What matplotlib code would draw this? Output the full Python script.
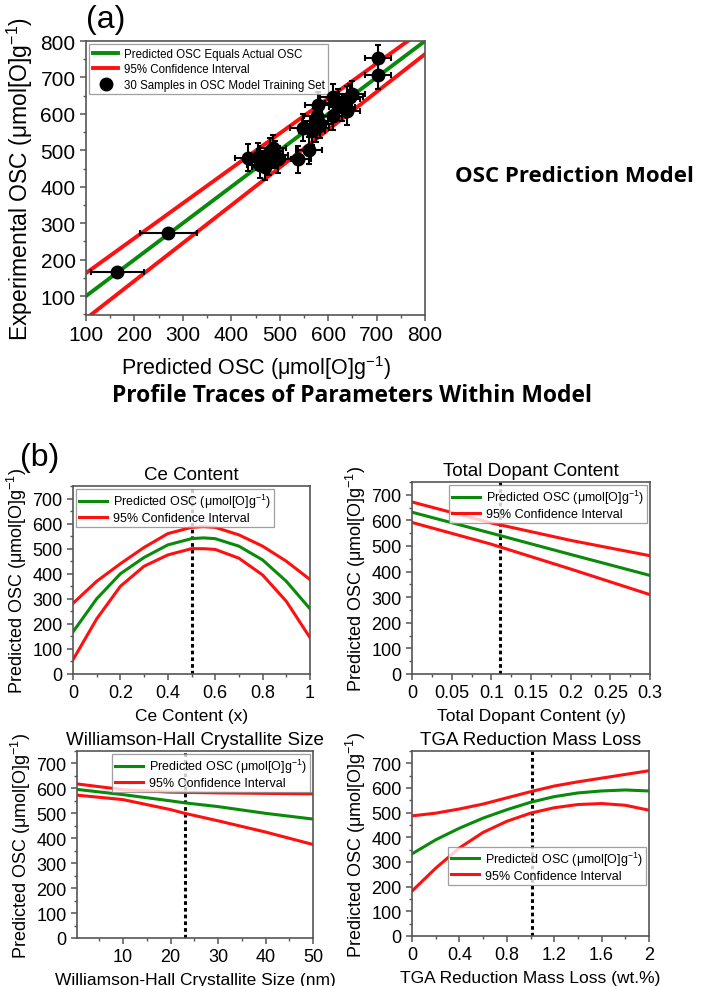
import numpy as np
import matplotlib
matplotlib.use('Agg')
import matplotlib.pyplot as plt
from matplotlib.lines import Line2D
from matplotlib.ticker import MultipleLocator

plt.rcParams['font.family'] = ['Liberation Sans', 'DejaVu Sans']
plt.rcParams['mathtext.fontset'] = 'custom'
plt.rcParams['mathtext.rm'] = 'Liberation Sans'

# ---- panel (a) data: predicted vs experimental OSC ----
pred = [165, 270, 434, 455, 460, 470, 478, 486, 490, 496, 538, 561, 548, 567, 573,
        583, 577, 579, 610, 611, 629, 639, 639, 650, 703, 703, 480, 575, 620, 645]
expt = [165, 272, 479, 483, 461, 455, 470, 505, 488, 475, 475, 500, 562, 552, 580,
        571, 593, 623, 593, 645, 618, 607, 640, 654, 753, 706, 498, 560, 630, 645]
pred_err = [55, 59] + [27] * 28
expt_err = [0, 0] + [37] * 28
ci_x = [100, 800]
ci_upper = [163, 834]
ci_lower = [38, 764]

# ---- panel (b) profile traces ----
ce_x = [0, 0.1, 0.2, 0.3, 0.4, 0.5, 0.55, 0.6, 0.7, 0.8, 0.9, 1.0]
ce_pred = [168, 300, 400, 465, 515, 540, 543, 540, 510, 455, 370, 260]
ce_hi = [282, 370, 440, 505, 560, 585, 588, 585, 555, 510, 450, 377]
ce_lo = [57, 220, 350, 430, 475, 500, 500, 497, 462, 395, 290, 145]

dop_x = [0, 0.1, 0.2, 0.3]
dop_pred = [632, 550, 467, 385]
dop_hi = [672, 590, 522, 462]
dop_lo = [592, 507, 410, 310]

wh_x = [0.3, 10, 20, 23, 30, 40, 50]
wh_pred = [596, 575, 550, 542, 527, 500, 477]
wh_hi = [618, 595, 585, 584, 582, 580, 578]
wh_lo = [573, 555, 515, 500, 470, 425, 375]

tga_x = [0, 0.2, 0.4, 0.6, 0.8, 1.0, 1.2, 1.4, 1.6, 1.8, 2.0]
tga_pred = [333, 390, 437, 478, 512, 542, 565, 580, 588, 592, 588]
tga_hi = [487, 498, 515, 535, 560, 585, 608, 625, 640, 655, 670]
tga_lo = [182, 275, 357, 420, 465, 498, 520, 533, 537, 530, 510]

GREEN = '#0a8a0a'
RED = '#ff1010'
SPINE = '#555555'
unit = r'($\mathregular{\mu mol[O]g^{-1}}$)'

fig = plt.figure(figsize=(7.05, 9.87), dpi=100)


def style(ax, fs):
    for s in ax.spines.values():
        s.set_color(SPINE)
        s.set_linewidth(1.2)
    ax.tick_params(which='both', direction='out', top=False, right=False,
                   color=SPINE, labelsize=fs)
    ax.tick_params(which='major', length=4, width=1.1)
    ax.tick_params(which='minor', length=2.5, width=1.0)


# ---------------- (a) ----------------
ax = fig.add_axes([86 / 705, 1 - 316 / 987, 339 / 705, 274 / 987])
g, = ax.plot([100, 800], [100, 800], color=GREEN, lw=2.8)
r, = ax.plot(ci_x, ci_upper, color=RED, lw=2.8)
ax.plot(ci_x, ci_lower, color=RED, lw=2.8)
ax.errorbar(pred, expt, xerr=pred_err, yerr=expt_err, fmt='o', color='black',
            ms=9, elinewidth=1.5, capsize=2.5, capthick=1.5, zorder=5)
dot = Line2D([], [], ls='none', marker='o', ms=9, color='black')
ax.set_xlim(100, 800)
ax.set_ylim(48, 800)
ax.xaxis.set_major_locator(MultipleLocator(100))
ax.xaxis.set_minor_locator(MultipleLocator(50))
ax.yaxis.set_major_locator(MultipleLocator(100))
ax.yaxis.set_minor_locator(MultipleLocator(50))
style(ax, 15)
ax.set_xlabel('Predicted OSC ' + unit, fontsize=15.5, labelpad=6)
ax.set_ylabel('Experimental OSC ' + unit, fontsize=16.5, labelpad=4)
leg = ax.legend([g, r, dot],
                ['Predicted OSC Equals Actual OSC', '95% Confidence Interval',
                 '30 Samples in OSC Model Training Set'],
                loc='upper left', fontsize=8.3, frameon=True, fancybox=False,
                borderpad=0.3, handlelength=2.2, labelspacing=0.3,
                handletextpad=0.5, borderaxespad=0.3)
leg.get_frame().set_edgecolor('#888888')
leg.get_frame().set_linewidth(0.9)

fig.text(86 / 705, 1 - 20 / 987, '(a)', fontsize=23, va='center', ha='left')
fig.text(574 / 705, 1 - 176 / 987, 'OSC Prediction Model', fontsize=16,
         fontweight='bold', family='Open Sans', ha='center', va='center')
fig.text(352 / 705, 1 - 396 / 987, 'Profile Traces of Parameters Within Model',
         fontsize=16.5, fontweight='bold', family='Open Sans',
         ha='center', va='center')
fig.text(20 / 705, 1 - 458 / 987, '(b)', fontsize=23, va='center', ha='left')

# ---------------- (b) ----------------
panels = [
    (ce_x, ce_pred, ce_hi, ce_lo, 0.5, (0, 1), 0.2, 0.1, 'Ce Content',
     'Ce Content (x)', [73, 487, 310, 675], 'upper left', None),
    (dop_x, dop_pred, dop_hi, dop_lo, 0.111, (0, 0.3), 0.05, 0.025,
     'Total Dopant Content', 'Total Dopant Content (y)', [412, 483, 650, 675],
     'upper right', None),
    (wh_x, wh_pred, wh_hi, wh_lo, 23, (0.3, 50), 10, 5,
     'Williamson-Hall Crystallite Size', 'Williamson-Hall Crystallite Size (nm)',
     [77, 752, 313, 939], 'upper right', None),
    (tga_x, tga_pred, tga_hi, tga_lo, 1.01, (0, 2), 0.4, 0.2,
     'TGA Reduction Mass Loss', 'TGA Reduction Mass Loss (wt.%)',
     [412, 752, 649, 937], 'center right', (1.0, 0.38)),
]

for xs, yp, yh, yl, vx, xlim, maj, mnr, title, xlabel, box, loc, anchor in panels:
    l, t, rr, b = box
    bx = fig.add_axes([l / 705, 1 - b / 987, (rr - l) / 705, (b - t) / 987])
    bx.plot(xs, yp, color=GREEN, lw=2.2, label='Predicted OSC ' + unit)
    bx.plot(xs, yh, color=RED, lw=2.2, label='95% Confidence Interval')
    bx.plot(xs, yl, color=RED, lw=2.2)
    bx.axvline(vx, color='black', ls=(0, (1.2, 1.0)), lw=2.2, zorder=1)
    bx.set_xlim(*xlim)
    bx.set_ylim(0, 750)
    bx.xaxis.set_major_locator(MultipleLocator(maj))
    bx.xaxis.set_minor_locator(MultipleLocator(mnr))
    bx.yaxis.set_major_locator(MultipleLocator(100))
    bx.yaxis.set_minor_locator(MultipleLocator(50))
    bx.xaxis.set_major_formatter(plt.FuncFormatter(lambda v, p: f'{v:g}'))
    style(bx, 13)
    bx.set_title(title, fontsize=13.5, pad=5)
    bx.set_xlabel(xlabel, fontsize=12.5, labelpad=5)
    bx.set_ylabel('Predicted OSC ' + unit, fontsize=13, labelpad=2)
    kw = dict(loc=loc, fontsize=9, frameon=True, fancybox=False, borderpad=0.25,
              handlelength=2.2, labelspacing=0.15, handletextpad=0.5,
              borderaxespad=0.25)
    if anchor is not None:
        kw['bbox_to_anchor'] = anchor
    lg = bx.legend(**kw)
    lg.get_frame().set_edgecolor('#888888')
    lg.get_frame().set_linewidth(0.9)

fig.savefig('out.png', dpi=100)
